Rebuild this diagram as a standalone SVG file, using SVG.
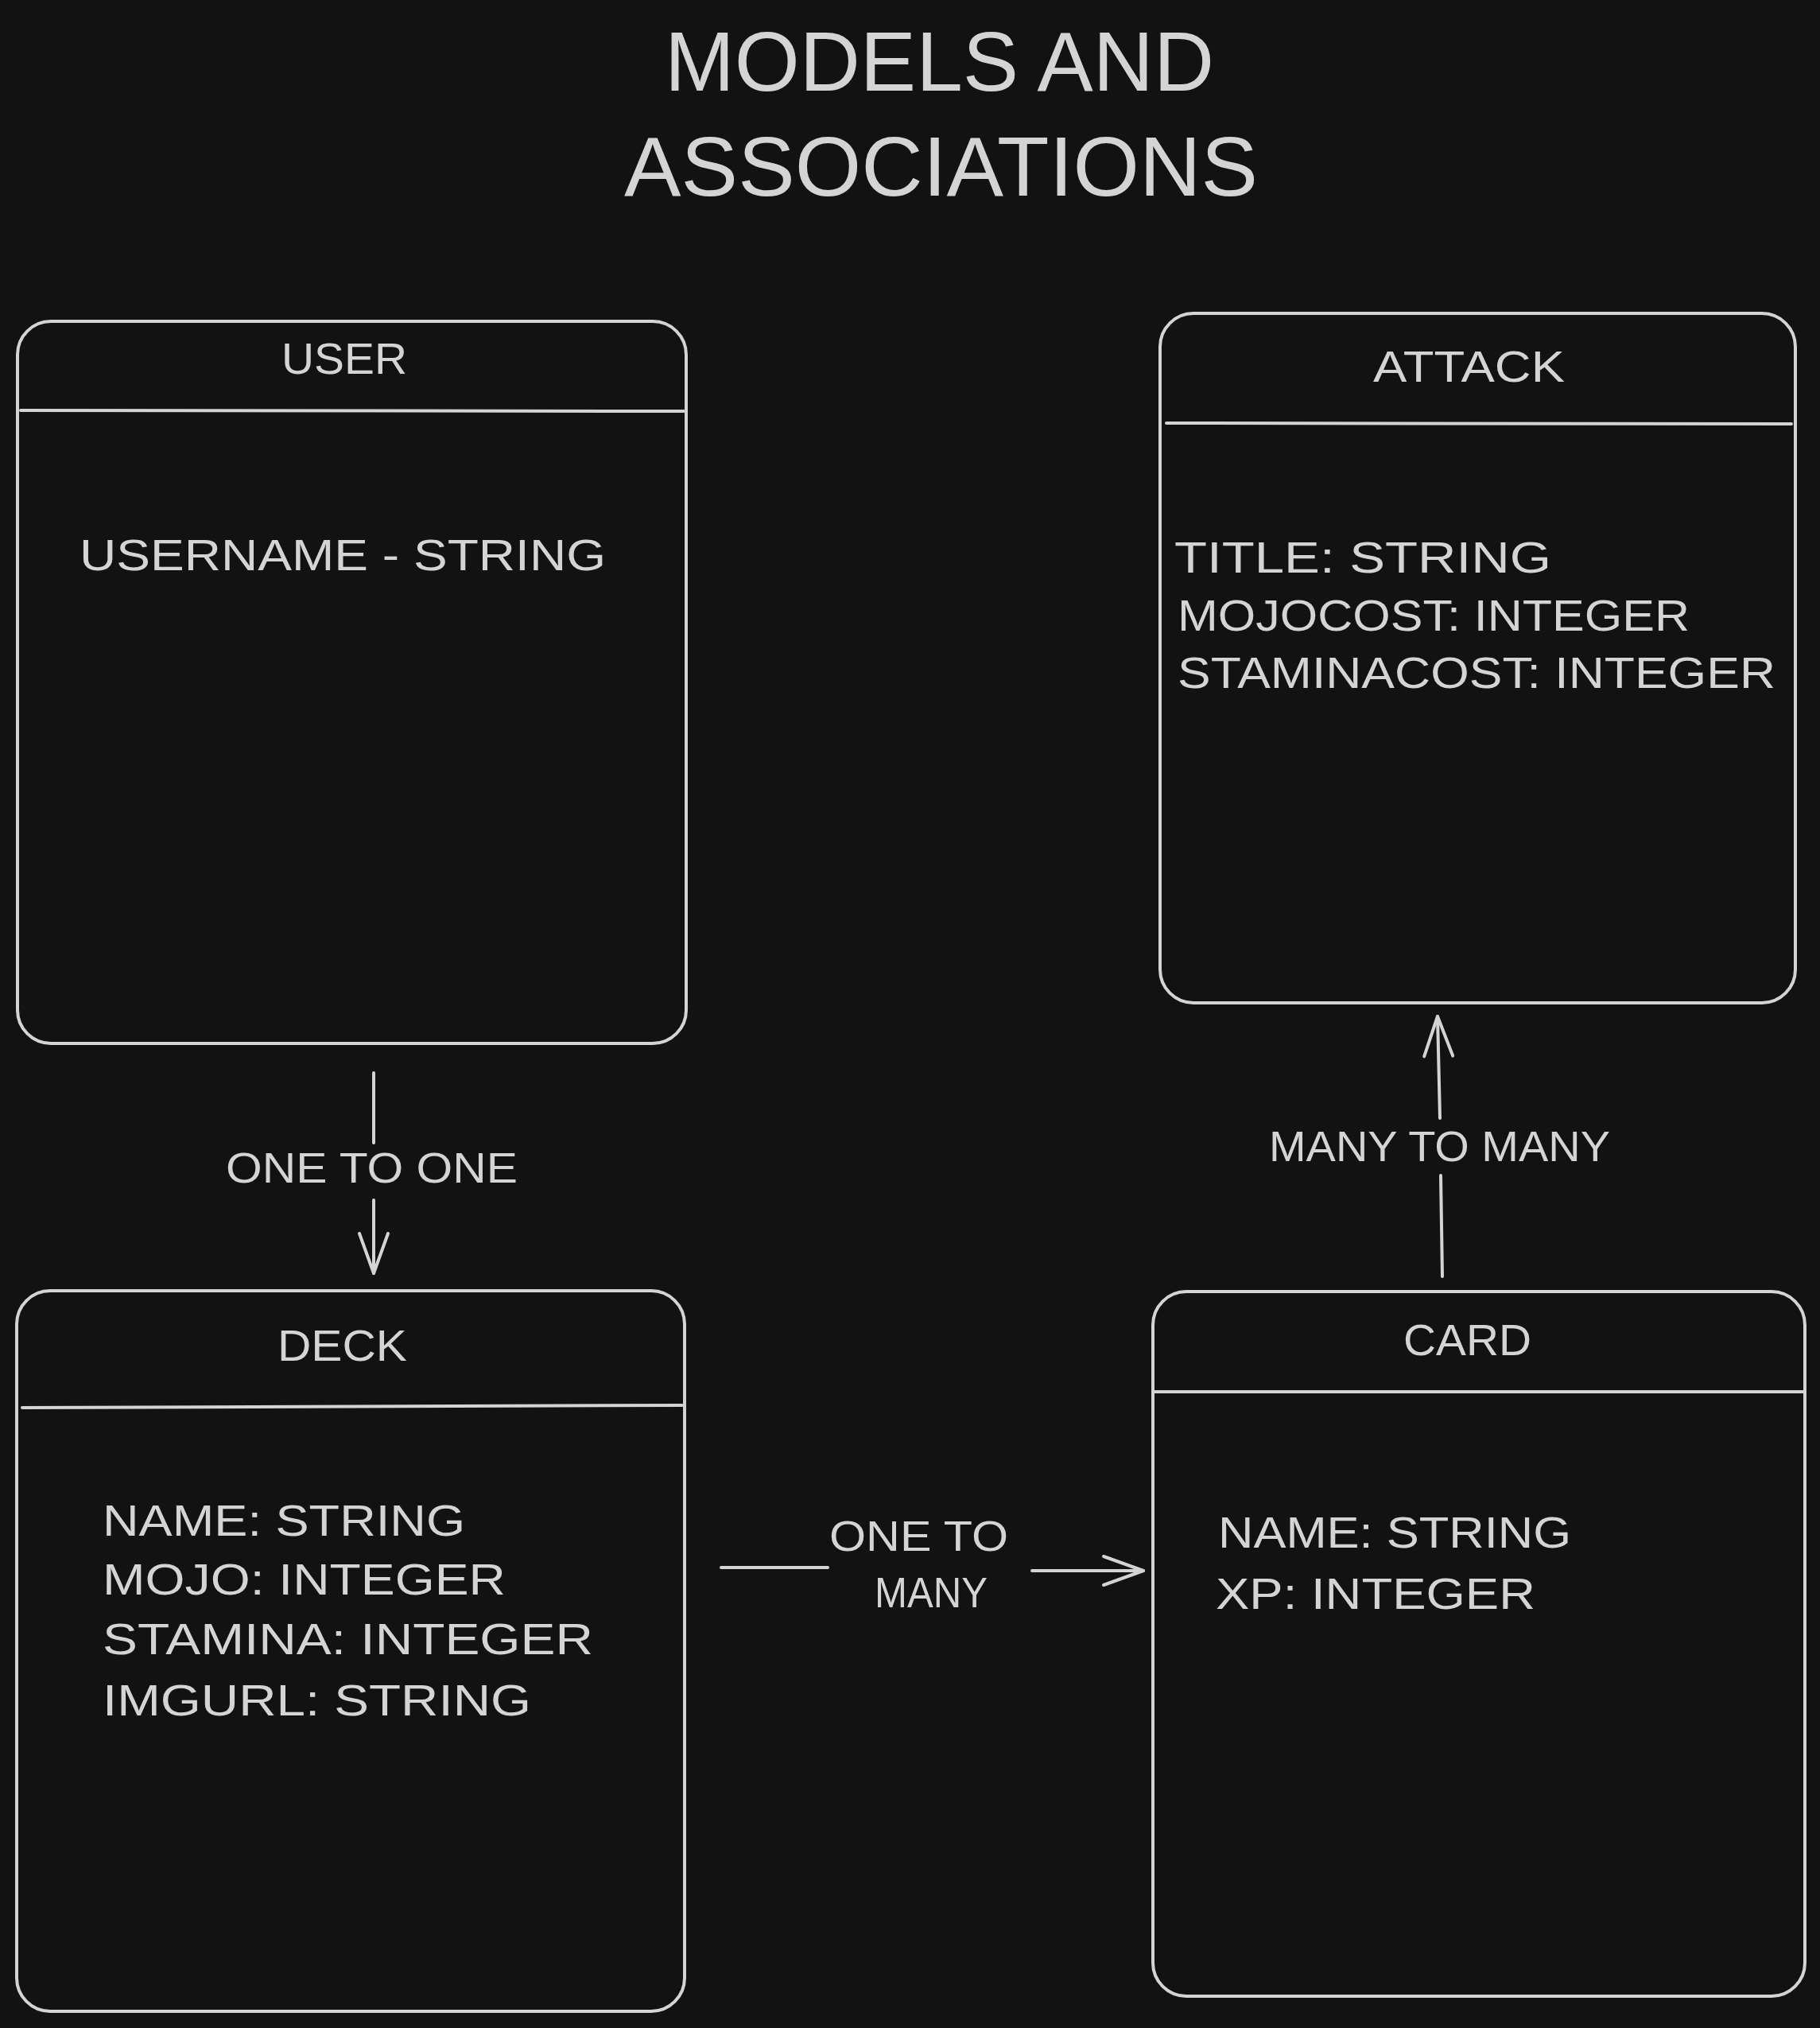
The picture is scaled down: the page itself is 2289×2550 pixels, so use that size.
<svg xmlns="http://www.w3.org/2000/svg" width="2289" height="2550" viewBox="0 0 2289 2550">
<style>
  .bg { fill: #121212; }
  .box { fill: #121212; stroke: #d4d4d4; stroke-width: 4; }
  .div { stroke: #d4d4d4; stroke-width: 4; fill: none; stroke-linecap: round; }
  .edge { stroke: #d4d4d4; stroke-width: 4; fill: none; stroke-linecap: round; }
  text { font-family: "Liberation Sans", Arial, sans-serif; fill: #d4d4d4; }
  .title { font-size: 105px; }
  .t { font-size: 56px; }
  .lbl { font-size: 54px; }
</style>
<defs>
  <marker id="arrow" markerUnits="userSpaceOnUse" viewBox="-54 -22 58 44" refX="0" refY="0" markerWidth="58" markerHeight="44" orient="auto">
    <path d="M -50 -18 L 0 0 L -50 18" fill="none" stroke="#d4d4d4" stroke-width="4" stroke-linecap="round" stroke-linejoin="round"/>
  </marker>
</defs>
<rect class="bg" x="0" y="0" width="2289" height="2550"/>

<g id="title">
  <text class="title" x="836" y="114" textLength="691" lengthAdjust="spacingAndGlyphs">MODELS AND</text>
  <text class="title" x="785" y="246" textLength="797" lengthAdjust="spacingAndGlyphs">ASSOCIATIONS</text>
</g>

<g id="user">
  <rect class="box" x="22" y="404" width="841" height="908" rx="42"/>
  <line class="div" x1="26" y1="516" x2="860" y2="517"/>
  <text class="t" x="354" y="470" textLength="158" lengthAdjust="spacingAndGlyphs">USER</text>
  <text class="t" x="100" y="717" textLength="662" lengthAdjust="spacingAndGlyphs">USERNAME - STRING</text>
</g>

<g id="attack">
  <rect class="box" x="1459" y="394" width="799" height="867" rx="42"/>
  <line class="div" x1="1467" y1="532" x2="2253" y2="533"/>
  <text class="t" x="1727" y="480" textLength="241" lengthAdjust="spacingAndGlyphs">ATTACK</text>
  <text class="t" x="1477" y="720" textLength="474" lengthAdjust="spacingAndGlyphs">TITLE: STRING</text>
  <text class="t" x="1481" y="793" textLength="644" lengthAdjust="spacingAndGlyphs">MOJOCOST: INTEGER</text>
  <text class="t" x="1481" y="865" textLength="752" lengthAdjust="spacingAndGlyphs">STAMINACOST: INTEGER</text>
</g>

<g id="deck">
  <rect class="box" x="21" y="1623" width="840" height="906" rx="42"/>
  <line class="div" x1="28" y1="1770" x2="858" y2="1767"/>
  <text class="t" x="349" y="1711" textLength="163" lengthAdjust="spacingAndGlyphs">DECK</text>
  <text class="t" x="129" y="1931" textLength="456" lengthAdjust="spacingAndGlyphs">NAME: STRING</text>
  <text class="t" x="129" y="2005" textLength="507" lengthAdjust="spacingAndGlyphs">MOJO: INTEGER</text>
  <text class="t" x="129" y="2080" textLength="617" lengthAdjust="spacingAndGlyphs">STAMINA: INTEGER</text>
  <text class="t" x="129" y="2157" textLength="539" lengthAdjust="spacingAndGlyphs">IMGURL: STRING</text>
</g>

<g id="card">
  <rect class="box" x="1450" y="1624" width="820" height="886" rx="42"/>
  <line class="div" x1="1452" y1="1750" x2="2268" y2="1750"/>
  <text class="t" x="1765" y="1704" textLength="161" lengthAdjust="spacingAndGlyphs">CARD</text>
  <text class="t" x="1532" y="1946" textLength="444" lengthAdjust="spacingAndGlyphs">NAME: STRING</text>
  <text class="t" x="1529" y="2023" textLength="402" lengthAdjust="spacingAndGlyphs">XP: INTEGER</text>
</g>

<g id="connectors">
  <g id="user-deck">
    <line class="edge" x1="470" y1="1349" x2="470" y2="1437"/>
    <line class="edge" x1="470" y1="1509" x2="470" y2="1601" marker-end="url(#arrow)"/>
    <text class="lbl" x="284" y="1487" textLength="367" lengthAdjust="spacingAndGlyphs">ONE TO ONE</text>
  </g>
  <g id="deck-card">
    <line class="edge" x1="907" y1="1971" x2="1041" y2="1971"/>
    <line class="edge" x1="1298" y1="1975" x2="1438" y2="1975" marker-end="url(#arrow)"/>
    <text class="lbl" x="1043" y="1950" textLength="225" lengthAdjust="spacingAndGlyphs">ONE TO</text>
    <text class="lbl" x="1100" y="2021" textLength="142" lengthAdjust="spacingAndGlyphs">MANY</text>
  </g>
  <g id="card-attack">
    <line class="edge" x1="1814" y1="1605" x2="1812" y2="1478"/>
    <line class="edge" x1="1811" y1="1406" x2="1808" y2="1278" marker-end="url(#arrow)"/>
    <text class="lbl" x="1596" y="1460" textLength="429" lengthAdjust="spacingAndGlyphs">MANY TO MANY</text>
  </g>
</g>
</svg>
